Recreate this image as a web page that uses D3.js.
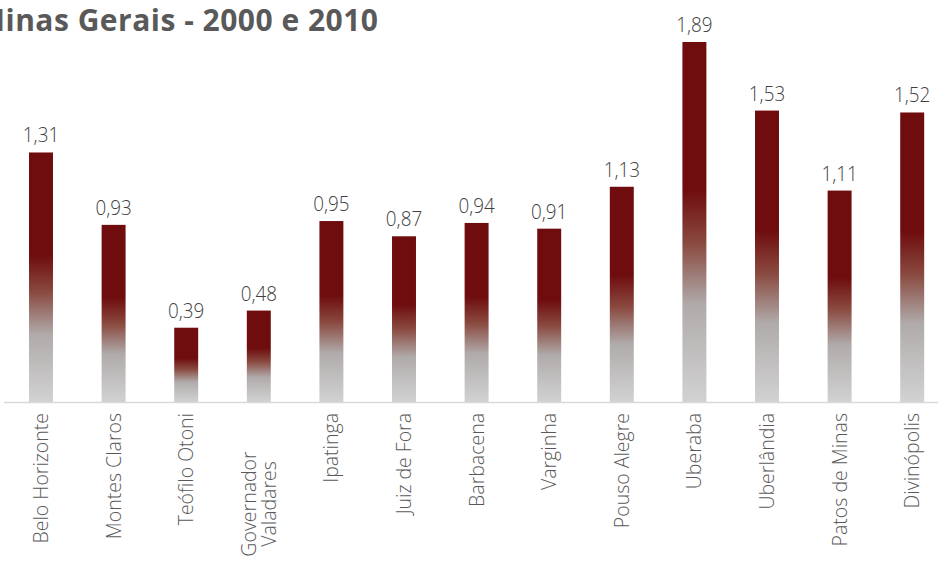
<!DOCTYPE html>
<html><head><meta charset="utf-8">
<script src="https://cdn.jsdelivr.net/npm/d3@7"></script>
<style>body{margin:0;background:#fff;overflow:hidden}svg{display:block}</style>
</head><body>
<script>
const categories = ["Belo Horizonte","Montes Claros","Teófilo Otoni","Governador Valadares","Ipatinga","Juiz de Fora","Barbacena","Varginha","Pouso Alegre","Uberaba","Uberlândia","Patos de Minas","Divinópolis"];
const values = [1.31,0.93,0.39,0.48,0.95,0.87,0.94,0.91,1.13,1.89,1.53,1.11,1.52];
const labelLines = [["Belo Horizonte"],["Montes Claros"],["Teófilo Otoni"],["Governador","Valadares"],["Ipatinga"],["Juiz de Fora"],["Barbacena"],["Varginha"],["Pouso Alegre"],["Uberaba"],["Uberlândia"],["Patos de Minas"],["Divinópolis"]];
const title = "Minas Gerais - 2000 e 2010";

const W = 938, H = 561;
const svg = d3.select("body").append("svg").attr("width", W).attr("height", H);
const defs = svg.append("defs");
const g1 = defs.append("linearGradient").attr("id","barGrad").attr("x1",0).attr("y1",0).attr("x2",0).attr("y2",1);
[[0,"#6e0c0e"],[0.41,"#6e0c0e"],[0.56,"#8a4a40"],[0.73,"#b0abab"],[1,"#d2d2d2"]].forEach(s=>g1.append("stop").attr("offset",s[0]).attr("stop-color",s[1]));

const x = d3.scaleBand().domain(categories).range([4.7, 948.5]).paddingInner(0.67).paddingOuter(0.335);
const y = d3.scaleLinear().domain([0, 1.89]).range([402, 42]);

const font = "'Open Sans', 'Segoe UI', sans-serif";

// axis line
svg.append("line").attr("x1",4).attr("x2",W).attr("y1",y(0)+0.5).attr("y2",y(0)+0.5).attr("stroke","#d9d9d9").attr("stroke-width",1.5);

svg.selectAll("rect.bar").data(categories).enter().append("rect").attr("class","bar")
  .attr("x", d=>x(d)).attr("width", x.bandwidth())
  .attr("y", (d,i)=>y(values[i])).attr("height",(d,i)=>y(0)-y(values[i]))
  .attr("fill","url(#barGrad)");

svg.selectAll("text.val").data(categories).enter().append("text").attr("class","val")
  .attr("transform",(d,i)=>`translate(${x(d)+x.bandwidth()/2},${y(values[i])-10}) scale(0.92,1)`)
  .attr("text-anchor","middle").attr("font-family",font).attr("font-weight",300)
  .attr("font-size",20.5).attr("fill","#404040")
  .text((d,i)=>d3.format(".2f")(values[i]).replace(".",","));

categories.forEach((c,i)=>{
  const cx = x(c)+x.bandwidth()/2;
  const lines = labelLines[i];
  const gl = svg.append("g").attr("transform",`translate(${cx},${lines.length>1?504:413}) rotate(-90)`);
  lines.forEach((ln,j)=>{
    const off = (j-(lines.length-1)/2)*20 + 7;
    gl.append("text").attr("x",0).attr("y",off)
      .attr("text-anchor", lines.length>1?"middle":"end")
      .attr("font-family",font).attr("font-weight",300).attr("font-size",19.5).attr("fill","#595959")
      .text(ln);
  });
});

const t = svg.append("text").attr("y",31).attr("font-family",font).attr("font-weight",700)
  .attr("font-size",30).attr("fill","#595959").text(title);
const mW = t.node().getSubStringLength(0,1);
const x0 = 5 - mW;
t.attr("x", x0).attr("textLength", 378 - x0).attr("lengthAdjust","spacing");
</script>
</body></html>
